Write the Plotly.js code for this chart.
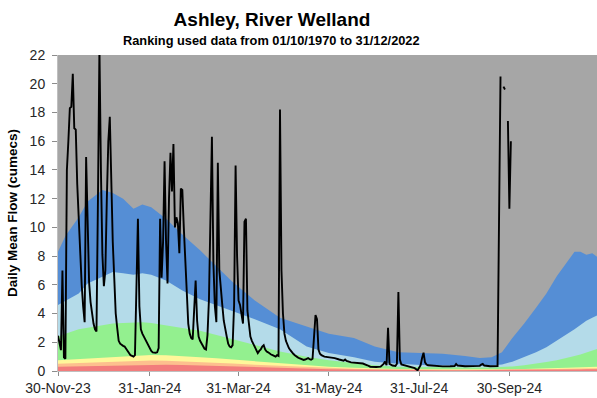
<!DOCTYPE html>
<html>
<head>
<meta charset="utf-8">
<script src="https://cdn.plot.ly/plotly-3.0.1.min.js"></script>
<style>
  html, body { margin: 0; padding: 0; background: #ffffff; overflow: hidden; }
  #chart { width: 597px; height: 398px; }
</style>
</head>
<body>
<div id="chart"></div>
<script>
// Day offsets are counted from 30-Nov-2023.
const startDate = '2023-11-30';

// Flow percentile bands (cumulative tops, cumecs) sampled on these days
const bandDay = [0,5,14,20,30,37,44,51,57,63,73,84,96,107,118,133,150,168,183,200,214,230,245,260,275,285,293,300,307,315,323,330,337,344,349,353,357,361,365];
const blueTop   = [8.3,9.4,10.7,11.8,12.6,12.4,12.0,11.3,11.6,11.4,10.6,9.5,8.4,7.3,6.2,4.9,3.7,3.1,2.6,2.3,1.7,1.3,1.25,1.2,1.05,0.9,0.95,1.3,2.3,3.3,4.4,5.4,6.6,7.6,8.3,8.3,8.1,8.2,7.9];
const lightTop  = [4.6,4.9,5.4,6.1,6.6,6.9,6.8,6.7,6.8,6.7,6.3,5.6,5.0,4.6,4.2,3.6,2.9,1.7,1.25,0.95,0.65,0.5,0.42,0.38,0.36,0.35,0.38,0.45,0.65,0.95,1.3,1.65,2.1,2.6,2.9,3.2,3.5,3.7,3.9];
const greenTop  = [2.4,2.6,2.9,3.0,3.2,3.3,3.35,3.4,3.4,3.35,3.2,3.0,2.8,2.5,2.2,1.8,1.35,1.0,0.75,0.55,0.4,0.3,0.27,0.25,0.24,0.24,0.25,0.28,0.32,0.4,0.5,0.62,0.75,0.9,1.05,1.15,1.3,1.45,1.55];
const yellowTop = [0.75,0.78,0.85,0.9,0.97,1.0,1.05,1.1,1.12,1.12,1.1,1.05,0.95,0.88,0.8,0.65,0.52,0.4,0.3,0.22,0.17,0.14,0.13,0.12,0.12,0.12,0.12,0.12,0.13,0.14,0.15,0.17,0.2,0.22,0.24,0.25,0.27,0.29,0.3];
const orangeTop = [0.5,0.52,0.56,0.6,0.64,0.67,0.7,0.72,0.73,0.73,0.72,0.68,0.62,0.57,0.52,0.43,0.35,0.27,0.2,0.15,0.12,0.1,0.09,0.09,0.09,0.09,0.09,0.09,0.09,0.1,0.11,0.12,0.14,0.15,0.16,0.17,0.18,0.19,0.2];
const redTop    = [0.3,0.31,0.34,0.36,0.38,0.4,0.42,0.44,0.45,0.45,0.44,0.42,0.38,0.35,0.32,0.27,0.22,0.17,0.13,0.1,0.08,0.07,0.06,0.06,0.06,0.06,0.06,0.06,0.06,0.07,0.07,0.08,0.09,0.1,0.11,0.11,0.12,0.12,0.13];

// Daily mean flow, Ashley gauge (null = missing day)
const flowDay = [0,1,2,3,4,5,6,7,8,9,10,11,12,13,14,15,16,17,18,19,20,21,22,23,24,25,26,27,28,29,30,31,32,33,34,35,36,37,38,39,40,41,42,43,44,45,46,47,48,49,50,51,52,53,54,55,56,57,58,59,60,61,62,63,64,65,66,67,68,69,70,71,72,73,74,75,76,77,78,79,80,81,82,83,84,85,86,87,88,89,90,91,92,93,94,95,96,97,98,99,100,101,102,103,104,105,106,107,108,109,110,111,112,113,114,115,116,117,118,119,120,121,122,123,124,125,126,127,128,129,130,131,132,133,134,135,136,137,138,139,140,141,142,143,144,145,146,147,148,149,150,151,152,153,154,155,156,157,158,159,160,161,162,163,164,165,166,167,168,169,170,171,172,173,174,175,176,177,178,180,182,184,187,190,193,194,195,198,202,206,209,211,215,218,220,221,222,223,224,226,228,229,230,231,232,235,238,241,243,245,246,247,248,249,250,255,260,265,268,269,270,275,280,285,286,287,288,292,297,299,300,301,302,303,304,305,306];
const flowCumecs = [2.45,1.9,1.45,7.0,0.95,0.85,14.0,16.0,18.3,18.4,20.7,16.9,16.8,13.0,10.5,8.0,6.0,4.5,3.4,14.9,9.5,6.2,4.8,3.9,3.3,2.9,2.75,12.0,22.5,14.0,8.1,5.9,7.0,12.0,16.0,17.7,12.0,9.0,6.5,4.0,3.0,2.1,1.9,1.8,1.75,1.7,1.55,1.4,1.25,1.1,1.05,1.0,1.1,5.0,10.6,4.5,2.9,2.6,2.4,2.1,1.9,1.7,1.55,1.4,1.3,1.28,1.27,1.3,1.6,10.6,6.5,9.0,14.6,9.0,6.1,12.0,15.2,12.5,15.8,10.0,10.7,10.3,8.2,12.7,12.6,10.0,8.0,5.5,3.3,2.6,2.3,2.2,4.0,6.3,3.5,2.4,2.1,1.9,1.7,1.55,1.5,2.5,5.0,11.0,16.3,7.5,4.5,3.4,14.5,7.0,5.4,4.6,3.5,2.8,2.4,1.9,1.7,1.65,1.8,4.6,14.3,8.0,4.9,4.6,3.8,3.3,10.4,10.6,4.2,3.0,2.4,2.1,1.9,1.6,1.4,1.25,1.4,1.5,1.7,1.8,1.5,1.35,1.3,1.2,1.15,1.1,1.05,1.0,1.1,1.05,18.2,7.0,4.0,2.6,2.1,1.8,1.6,1.45,1.3,1.2,1.1,1.0,0.95,0.9,0.85,0.8,0.77,0.8,0.85,0.9,0.82,0.78,0.85,2.5,3.9,3.6,1.5,1.2,1.1,1.0,0.97,0.95,0.9,0.8,0.72,0.8,0.7,0.6,0.58,0.52,0.4,0.3,0.28,0.3,0.5,0.65,0.4,3.0,0.5,0.38,0.35,0.5,5.5,0.8,0.45,0.35,0.3,0.2,0.05,0.4,0.9,1.27,0.6,0.45,0.4,0.35,0.32,0.33,0.35,0.49,0.38,0.33,0.34,0.36,0.45,0.5,0.38,0.33,0.35,20.5,null,19.8,19.6,null,17.4,11.3,16.0];

// Axis tick labels
const tickDates = ['2023-11-30','2024-01-31','2024-03-31','2024-05-31','2024-07-31','2024-09-30'];
const tickLabels = ['30-Nov-23','31-Jan-24','31-Mar-24','31-May-24','31-Jul-24','30-Sep-24'];
const yTicks = [0,2,4,6,8,10,12,14,16,18,20,22];

const DAY_MS = 86400000;
const t0 = Date.parse(startDate + 'T00:00:00Z');
const toDate = d => new Date(t0 + d * DAY_MS).toISOString().slice(0, 19).replace('T', ' ');

const bandX = bandDay.map(toDate);
const bands = [
  { y: blueTop,   color: '#558ed5' },
  { y: lightTop,  color: '#b4dbe9' },
  { y: greenTop,  color: '#93f08f' },
  { y: yellowTop, color: '#fff79a' },
  { y: orangeTop, color: '#fdc08e' },
  { y: redTop,    color: '#f27c7c' }
];

const traces = bands.map(b => ({
  type: 'scatter', mode: 'lines', x: bandX, y: b.y,
  fill: 'tozeroy', fillcolor: b.color,
  line: { width: 0, color: b.color, shape: 'linear' },
  hoverinfo: 'skip', showlegend: false
}));

traces.push({
  type: 'scatter', mode: 'lines',
  x: flowDay.map(toDate), y: flowCumecs,
  connectgaps: false,
  line: { color: '#000000', width: 1.9 },
  hoverinfo: 'skip', showlegend: false
});

const font = 'Liberation Sans, Arial, sans-serif';

const layout = {
  width: 597, height: 398,
  margin: { l: 58, r: 0, t: 55, b: 27, pad: 0 },
  paper_bgcolor: '#ffffff',
  plot_bgcolor: '#a6a6a6',
  showlegend: false,
  title: {
    text: 'Ashley, River Welland',
    font: { family: font, size: 19, color: '#000000', weight: 'bold' },
    xref: 'container', yref: 'container',
    x: 272 / 597, xanchor: 'center',
    y: 1 - 19 / 398, yanchor: 'middle'
  },
  annotations: [{
    text: 'Ranking used data from 01/10/1970 to 31/12/2022',
    font: { family: font, size: 12.8, color: '#000000', weight: 'bold' },
    xref: 'paper', yref: 'paper',
    x: (271 - 58) / 539, y: (371 - 40.5) / 316,
    xanchor: 'center', yanchor: 'middle', showarrow: false
  }],
  xaxis: {
    type: 'date',
    range: [toDate(0), toDate(364.2)],
    tickmode: 'array', tickvals: tickDates, ticktext: tickLabels,
    ticks: 'outside', ticklen: 4, tickcolor: '#8c8c8c', tickwidth: 1,
    tickfont: { family: font, size: 14, color: '#262626' },
    showgrid: false, zeroline: false,
    showline: true, linecolor: '#bfbfbf', linewidth: 1,
    fixedrange: true
  },
  yaxis: {
    range: [0, 22],
    tickmode: 'array', tickvals: yTicks,
    ticks: 'outside', ticklen: 5, tickcolor: '#8c8c8c', tickwidth: 1,
    ticklabelstandoff: 4,
    tickfont: { family: font, size: 14, color: '#262626' },
    showgrid: false, zeroline: false,
    showline: true, linecolor: '#bfbfbf', linewidth: 1,
    title: {
      text: 'Daily Mean Flow (cumecs)',
      font: { family: font, size: 13.5, color: '#000000', weight: 'bold' },
      standoff: 8
    },
    fixedrange: true
  }
};

Plotly.newPlot('chart', traces, layout, { displayModeBar: false, staticPlot: true });
</script>
</body>
</html>
